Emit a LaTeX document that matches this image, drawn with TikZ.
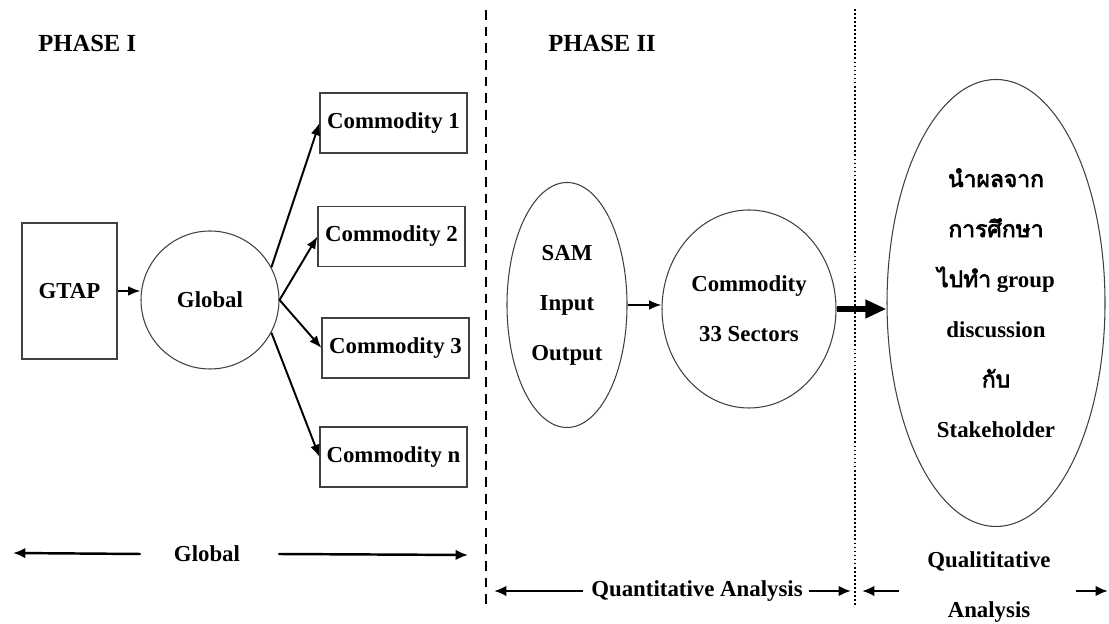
\documentclass[tikz,border=0pt]{standalone}
\usepackage{fontspec}
\setmainfont{Liberation Serif}
\newfontfamily\thaifont[Script=Thai, AutoFakeBold=3]{Loma}
\usepackage{tikz}
\usetikzlibrary{arrows.meta}
\usetikzlibrary{shapes.geometric}

\begin{document}
\begin{tikzpicture}[
        txt/.style={font=\fontsize{13}{28.5}\selectfont\bfseries, align=center, inner sep=0pt},
        box/.style={txt, draw=black!75, line width=0.6pt},
        bubble/.style={txt, draw=black!75, line width=0.6pt, ellipse},
        arr/.style={line width=1.1pt, -{Latex[length=7pt,width=5.5pt]}},
        barr/.style={line width=1.4pt, -{Latex[length=7pt,width=6pt]}},
    ]
        \useasboundingbox (0,0) rectangle (22.18,12.48);

        %GRID
        %\draw[lightgray] (0,0) grid (22,12);

        %PEMBATAS
        \draw[line width=1.3pt, dash pattern=on 5.5pt off 4pt] (9.72,12.28) -- (9.72,0.28);
        \draw[line width=1pt, dash pattern=on 1pt off 1.3pt] (17.1,12.3) -- (17.1,0.38);

        %JUDUL
        \node[txt, font=\fontsize{14}{16}\selectfont\bfseries, anchor=west] (ph1) at (0.76,11.62) {PHASE I};
        \node[txt, font=\fontsize{14}{16}\selectfont\bfseries, anchor=west] (ph2) at (10.96,11.62) {PHASE II};

        %PHASE I
        \node[box, minimum width=1.9cm, minimum height=2.72cm] (gtap) at (1.39,6.66) {GTAP};
        \node[bubble, minimum size=2.76cm] (glob) at (4.2,6.48) {Global};
        \node[box, minimum width=2.94cm, minimum height=1.2cm] (com1) at (7.87,10.02) {Commodity 1};
        \node[box, minimum width=2.94cm, minimum height=1.2cm] (com2) at (7.83,7.75) {Commodity 2};
        \node[box, minimum width=2.94cm, minimum height=1.2cm] (com3) at (7.91,5.52) {Commodity 3};
        \node[box, minimum width=2.94cm, minimum height=1.2cm] (comn) at (7.87,3.34) {Commodity n};

        \draw[arr] (gtap.east) -- (gtap.east -| glob.west);
        \draw[arr] (glob.28) -- (com1.west);
        \draw[arr] (glob.east) -- (com2.west);
        \draw[arr] (glob.east) -- (com3.west);
        \draw[arr] (glob.-28) -- (comn.west);

        %PHASE II
        \node[bubble, minimum width=2.4cm, minimum height=4.9cm] (sam) at (11.34,6.38) {SAM\\Input\\Output};
        \node[bubble, minimum width=3.48cm, minimum height=3.96cm] (sect) at (14.98,6.3) {Commodity\\33 Sectors};
        \node[bubble, minimum width=4.36cm, minimum height=8.94cm] (grp) at (19.92,6.42)
            {{\thaifont นำผลจาก}\\{\thaifont การศึกษา}\\{\thaifont ไปทำ} group\\discussion\\{\thaifont กับ}\\Stakeholder};

        \draw[arr] (sam.east) -- (sam.east -| sect.west);
        \draw[line width=3.4pt, -{Triangle[length=12pt,width=10pt]}] (sect.east) -- (sect.east -| grp.west);

        %BAWAH
        \node[txt] (glbl) at (4.14,1.4) {Global};
        \coordinate (gL) at (0.26,1.42);
        \coordinate (gR) at (9.36,1.38);
        \draw[barr] ([xshift=-0.66cm]glbl.west) -- (gL);
        \draw[barr] ([xshift=0.76cm]glbl.east) -- (gR);

        \node[txt] (quan) at (13.94,0.66) {Quantitative Analysis};
        \coordinate (qnL) at (9.88,0.66);
        \coordinate (qnR) at (17.02,0.66);
        \draw[barr] ([xshift=-0.16cm]quan.west) -- (qnL);
        \draw[barr] ([xshift=0.12cm]quan.east) -- (qnR);

        \node[txt] (qual) at (19.78,0.74) {Qualititative\\Analysis};
        \coordinate (qlL) at (17.24,0.66);
        \coordinate (qlR) at (22.16,0.66);
        \draw[barr] (17.98,0.66) -- (qlL);
        \draw[barr] (21.52,0.66) -- (qlR);
    \end{tikzpicture}
\end{document}
